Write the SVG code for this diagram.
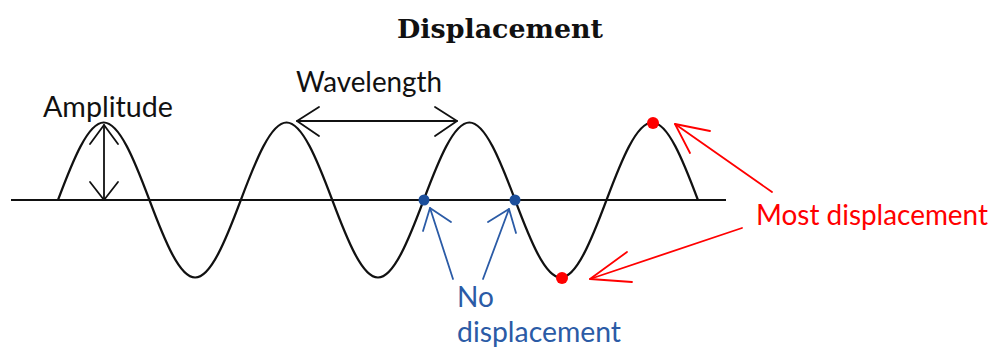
<svg xmlns="http://www.w3.org/2000/svg" width="993" height="349" viewBox="0 0 993 349">
<style>
.lbl{font-family:Lato,"Open Sans","Liberation Sans",sans-serif;font-size:28px}
.blk{fill:#111}
.blue{fill:#2b5ba6}
.red{fill:#ff0000}
.ar{fill:none;stroke-width:1.8;stroke-linecap:round;stroke-linejoin:round}
</style>
<rect width="993" height="349" fill="#fff"/>
<text id="title" x="397" y="38" font-family="'DejaVu Serif','Liberation Serif',serif" font-weight="bold" font-size="26" textLength="206" lengthAdjust="spacingAndGlyphs" fill="#111">Displacement</text>
<g id="axis"><line x1="11" y1="200" x2="726" y2="200" stroke="#111" stroke-width="1.8"/></g>
<g id="wave"><path fill="none" stroke="#111" stroke-width="2.2" d="M58,200 c14.9,-39.7 30,-77.5 45.71,-77.5 c15.71,0 30.81,37.8 45.71,77.5 c14.9,39.7 30,77.5 45.71,77.5 c15.71,0 30.81,-37.8 45.71,-77.5 c14.9,-39.7 30,-77.5 45.71,-77.5 c15.71,0 30.81,37.8 45.71,77.5 c14.9,39.7 30,77.5 45.71,77.5 c15.71,0 30.81,-37.8 45.71,-77.5 c14.9,-39.7 30,-77.5 45.71,-77.5 c15.71,0 30.81,37.8 45.71,77.5 c14.9,39.7 30,77.5 45.71,77.5 c15.71,0 30.81,-37.8 45.71,-77.5 c14.9,-39.7 30,-77.5 45.71,-77.5 c15.71,0 30.81,37.8 45.71,77.5"/></g>
<g id="connectors">
<g stroke="#111" class="ar">
<line x1="104" y1="125" x2="104" y2="200"/>
<polyline points="90,144 104,125 118,144"/>
<polyline points="90,182 104,200 118,182"/>
<line x1="297" y1="121" x2="457" y2="121"/>
<polyline points="319,107 297,121 319,136"/>
<polyline points="435,107 457,121 435,136"/>
</g>
<g stroke="#2b5ba6" class="ar">
<line x1="453" y1="279" x2="430" y2="208"/>
<polyline points="423,231 430,208 451,222"/>
<line x1="483" y1="279" x2="509" y2="209"/>
<polyline points="488,222 509,209 516,233"/>
</g>
<g stroke="#ff0000" class="ar">
<line x1="772" y1="192" x2="675" y2="124"/>
<polyline points="710,131 675,124 690,153"/>
<line x1="742" y1="228" x2="590" y2="279"/>
<polyline points="627,252 590,279 632,282"/>
</g>
</g>
<g id="dots">
<circle cx="424" cy="200" r="5.5" fill="#1c4f9c"/>
<circle cx="515" cy="200" r="5.5" fill="#1c4f9c"/>
<circle cx="562" cy="278" r="6" fill="#ff0000"/>
<circle cx="653" cy="123" r="6" fill="#ff0000"/>
</g>
<g id="amplitude"><text class="lbl blk" x="43" y="117" textLength="130" lengthAdjust="spacingAndGlyphs">Amplitude</text></g>
<g id="wavelength"><text class="lbl blk" x="296" y="92" textLength="146" lengthAdjust="spacingAndGlyphs">Wavelength</text></g>
<g id="no-displacement"><text class="lbl blue" x="457" y="307">No</text><text class="lbl blue" x="457" y="342" textLength="164" lengthAdjust="spacingAndGlyphs">displacement</text></g>
<g id="most-displacement"><text class="lbl red" x="756" y="225" textLength="232" lengthAdjust="spacingAndGlyphs">Most displacement</text></g>
</svg>
